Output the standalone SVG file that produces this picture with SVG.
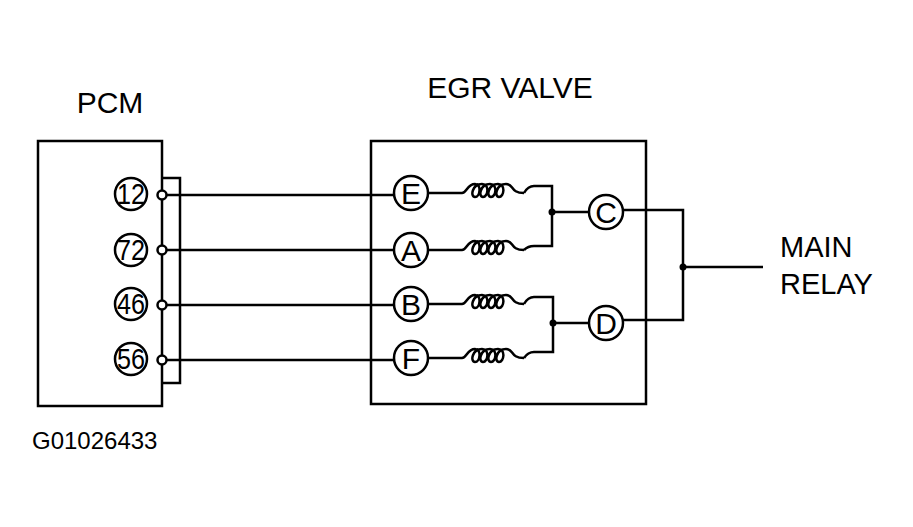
<svg xmlns="http://www.w3.org/2000/svg" width="913" height="527" viewBox="0 0 913 527">
<style>
.l{fill:none;stroke:#000;stroke-width:2.5}
.c{fill:#fff;stroke:#000;stroke-width:2.5}
.t{font-family:"Liberation Sans",Arial,sans-serif;fill:#000}
.n{font-family:"Liberation Sans",Arial,sans-serif;font-size:30px;text-anchor:middle;fill:#000}
</style>
<defs>
<path id="coil" class="l" d="M0,0 C5,0 5,-9 13,-9 C20,-9 18,4 13,4 C8,4 10,-9 20,-9 C28,-9 26,4 21,4 C16,4 18,-9 28,-9 C36,-9 34,4 29,4 C24,4 26,-9 36,-9 C44,-9 42,4 37,4 C32,4 34,-9 44,-9 C52,-9 48,0 62,0"/>
</defs>
<rect width="913" height="527" fill="#fff"/>
<g id="pcm">
<rect class="l" x="38" y="141" width="124" height="265"/>
<text class="t" x="110" y="113" font-size="30" text-anchor="middle">PCM</text>
<path class="l" d="M162,178 H180 V383 H162"/>
<circle class="l" cx="131" cy="194" r="16"/><text class="n" x="131" y="204" textLength="28" lengthAdjust="spacingAndGlyphs">12</text>
<circle class="l" cx="131" cy="250" r="16"/><text class="n" x="131" y="260" textLength="28" lengthAdjust="spacingAndGlyphs">72</text>
<circle class="l" cx="131" cy="304" r="16"/><text class="n" x="131" y="314" textLength="28" lengthAdjust="spacingAndGlyphs">46</text>
<circle class="l" cx="131" cy="359" r="16"/><text class="n" x="131" y="369" textLength="28" lengthAdjust="spacingAndGlyphs">56</text>
</g>
<g id="egr">
<rect class="l" x="371" y="141" width="275" height="263"/>
<text class="t" x="510" y="98" font-size="30" text-anchor="middle">EGR VALVE</text>
<circle class="l" cx="411" cy="193" r="17"/><text class="n" x="411" y="204">E</text>
<circle class="l" cx="411" cy="250" r="17"/><text class="n" x="411" y="261">A</text>
<circle class="l" cx="411" cy="304" r="17"/><text class="n" x="411" y="315">B</text>
<circle class="l" cx="411" cy="358" r="17"/><text class="n" x="411" y="369">F</text>
<circle class="l" cx="606" cy="212" r="17"/><text class="n" x="606" y="223">C</text>
<circle class="l" cx="606" cy="323" r="17"/><text class="n" x="606" y="334">D</text>
</g>
<g id="relay">
<text class="t" x="780" y="257" font-size="29">MAIN</text>
<text class="t" x="780" y="294" font-size="29">RELAY</text>
</g>
<text class="t" x="32" y="449" font-size="24">G01026433</text>
<g id="connectors">
<path class="l" d="M165,195 H394 M165,250 H394 M165,305 H394 M165,360 H394"/>
<path class="l" d="M428,193 H462 M428,250 H462 M428,304 H462 M428,358 H462"/>
<use href="#coil" x="462" y="193"/><use href="#coil" x="462" y="250"/>
<use href="#coil" x="462" y="304"/><use href="#coil" x="462" y="358"/>
<path class="l" d="M524,193 Q528,186 534,186 H552 V246 H534 Q528,246 524,250"/>
<path class="l" d="M524,304 Q528,297 534,297 H553 V352 H534 Q528,352 524,358"/>
<path class="l" d="M552,212 H589 M553,323 H589"/>
<circle cx="552" cy="212" r="3.5"/><circle cx="553" cy="323" r="3.5"/>
<path class="l" d="M623,210 H683 V320 H623 M683,267 H763"/>
<circle cx="683" cy="267" r="3.5"/>
<circle class="c" cx="162" cy="195" r="4.5"/><circle class="c" cx="162" cy="250" r="4.5"/>
<circle class="c" cx="162" cy="305" r="4.5"/><circle class="c" cx="162" cy="360" r="4.5"/>
</g>
</svg>
